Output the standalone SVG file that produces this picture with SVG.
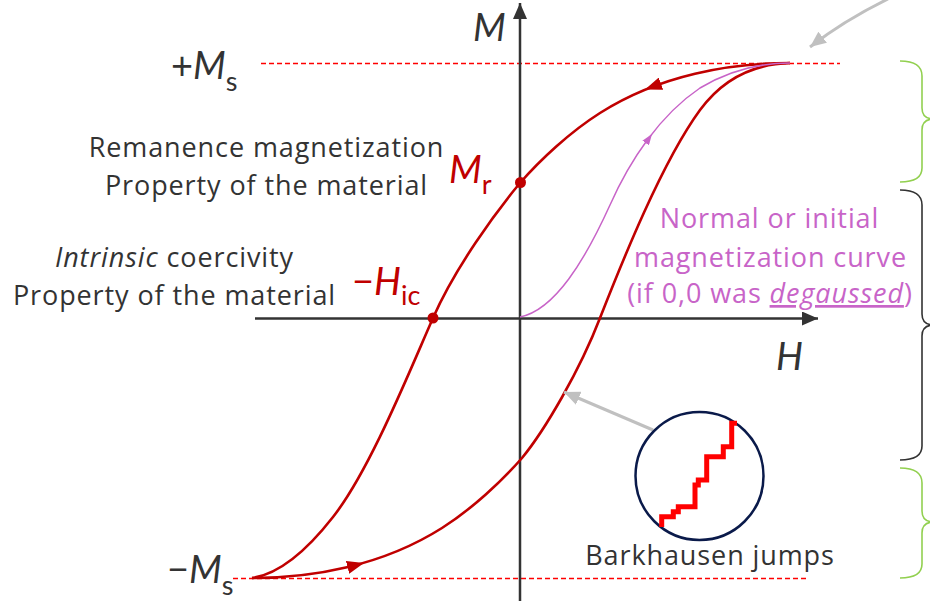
<svg xmlns="http://www.w3.org/2000/svg" width="930" height="601" viewBox="0 0 930 601">
<defs>
<style>
.txt{font-family:"Open Sans","Liberation Sans",sans-serif;font-size:27px;letter-spacing:0.9px;fill:#333333}
.big{font-family:Lato,"Liberation Sans",sans-serif;font-size:38px;fill:#333333}
.red{fill:#C00000}
.pink{font-family:"Open Sans","Liberation Sans",sans-serif;font-size:27px;letter-spacing:0.9px;fill:#C864C8}
.it{font-style:italic}
.sub{font-size:27px}
.axis{stroke:#333333;stroke-width:2.5;fill:none}
.dash{stroke:#FF0000;stroke-width:1.3;stroke-dasharray:5 3;fill:none}
.loop{stroke:#C00000;stroke-width:2.6;fill:none}
.init{stroke:#C864C8;stroke-width:1.5;fill:none}
.grayarr{stroke:#C0C0C0;stroke-width:3;fill:none}
.brace-g{stroke:#92D050;stroke-width:1.6;fill:none}
.brace-k{stroke:#333333;stroke-width:1.6;fill:none}
</style>
<marker id="axArr" viewBox="0 0 16 14" refX="16" refY="7" markerWidth="16" markerHeight="14" markerUnits="userSpaceOnUse" orient="auto"><path d="M0,0 L16,7 L0,14 z" fill="#333333"/></marker>
<marker id="redArr" viewBox="0 0 17 13" refX="17" refY="6.5" markerWidth="17" markerHeight="13" markerUnits="userSpaceOnUse" orient="auto"><path d="M0,0 L17,6.5 L0,13 z" fill="#C00000"/></marker>
<marker id="pinkArr" viewBox="0 0 11 8" refX="11" refY="4" markerWidth="11" markerHeight="8" markerUnits="userSpaceOnUse" orient="auto"><path d="M0,0 L11,4 L0,8 z" fill="#C864C8"/></marker>
<marker id="grayArr" viewBox="0 0 16 14" refX="16" refY="7" markerWidth="16" markerHeight="14" markerUnits="userSpaceOnUse" orient="auto"><path d="M0,0 L16,7 L0,14 z" fill="#C0C0C0"/></marker>
</defs>
<rect width="930" height="601" fill="#FFFFFF"/>

<g id="saturation-lines">
<line class="dash" x1="261" y1="63.5" x2="840" y2="63.5"/>
<line class="dash" x1="233" y1="578.5" x2="808" y2="578.5"/>
</g>

<g id="axes">
<line class="axis" x1="520" y1="601" x2="520" y2="3" marker-end="url(#axArr)"/>
<line class="axis" x1="255" y1="318.5" x2="818" y2="318.5" marker-end="url(#axArr)"/>
<text class="big it" x="473" y="41">M</text>
<text class="big it" x="776" y="370">H</text>
</g>

<g id="connectors">
<path id="upper-branch" class="loop" d="M790,63 C730,63 660,75 600,113 C570,132 540,160 520,183 C495,213 455,268 433,318 C410,370 370,470 333,517 C308,549 280,574 252,578"/>
<path id="lower-branch" class="loop" d="M252,578 C312,578 382,566 442,528 C472,509 502,481 522,458 C545,430 580,370 600,318 C622,262 662,162 700,110 C722,80 752,64 790,63"/>
<path id="initial-curve" class="init" d="M520,317 C555,310 585,260 610,205 C630,160 660,115 700,88 C730,70 760,63 790,63"/>
<path d="M660,84 L645,89.5" stroke="none" fill="none" marker-end="url(#redArr)"/>
<path d="M350,566.7 L364,563" stroke="none" fill="none" marker-end="url(#redArr)"/>
<path d="M646,142.5 L652,134" stroke="none" fill="none" marker-end="url(#pinkArr)"/>
<path class="grayarr" d="M888,-1 Q845,20 810,47" marker-end="url(#grayArr)"/>
<path class="grayarr" d="M653,430 L564,392" stroke-width="2.5" marker-end="url(#grayArr)"/>
</g>

<g id="Ms-plus">
<text class="big" x="171" y="79">+<tspan class="it">M</tspan><tspan class="sub" dy="12">s</tspan></text>
</g>
<g id="Ms-minus">
<text class="big" x="167" y="583">−<tspan class="it">M</tspan><tspan class="sub" dy="12">s</tspan></text>
</g>

<g id="remanence">
<circle cx="520.5" cy="182.5" r="5.5" fill="#C00000"/>
<text class="big red it" x="449" y="183">M<tspan class="sub" font-style="normal" dy="11">r</tspan></text>
<text class="txt" text-anchor="middle" x="266.5" y="157">Remanence magnetization</text>
<text class="txt" text-anchor="middle" x="266.5" y="195">Property of the material</text>
</g>

<g id="coercivity">
<circle cx="433" cy="318" r="5.5" fill="#C00000"/>
<text class="big red" x="352" y="295">−<tspan class="it">H</tspan><tspan class="sub" dy="10">ic</tspan></text>
<text class="txt" text-anchor="middle" x="174.5" y="267"><tspan class="it">Intrinsic</tspan> coercivity</text>
<text class="txt" text-anchor="middle" x="174.5" y="305">Property of the material</text>
</g>

<g id="initial-label">
<text class="pink" text-anchor="middle" x="769.5" y="228">Normal or initial</text>
<text class="pink" text-anchor="middle" x="770.5" y="267">magnetization curve</text>
<text class="pink" text-anchor="middle" x="770" y="303">(if 0,0 was <tspan class="it" text-decoration="underline">degaussed</tspan>)</text>
</g>

<g id="barkhausen">
<circle cx="699.5" cy="476" r="64" fill="none" stroke="#0A1A4A" stroke-width="2.5"/>
<polyline fill="none" stroke="#FF0000" stroke-width="5" points="661.7,527 661.7,516.7 673.3,516.7 673.3,511.7 678.3,511.7 678.3,506.7 695,506.7 695,485 698.3,485 698.3,480 706.7,480 706.7,456.7 723.3,456.7 723.3,446.7 731.7,446.7 731.7,423.3 737,423.3"/>
<text class="txt" text-anchor="middle" x="710" y="565">Barkhausen jumps</text>
</g>

<g id="braces">
<path class="brace-g" d="M900,61 C915,61 922,66 922,76 L922,108 C922,115 926,119 934,119 C926,119 922,123 922,130 L922,168 C922,177 915,182 900,182"/>
<path class="brace-k" d="M900,190 C915,190 922,195 922,205 L922,314 C922,321 926,325 934,325 C926,325 922,329 922,336 L922,446 C922,455 915,460 900,460"/>
<path class="brace-g" d="M900,468 C915,468 922,473 922,483 L922,511 C922,518 926,522 934,522 C926,522 922,526 922,533 L922,564 C922,573 915,578 900,578"/>
</g>
</svg>
